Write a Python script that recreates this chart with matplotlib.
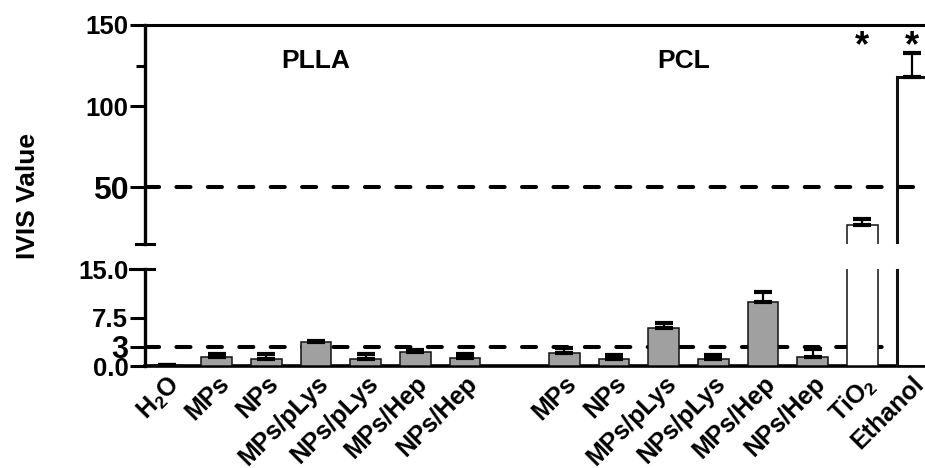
import numpy as np
import matplotlib.pyplot as plt

# Fonts: Arial-like bold everywhere
plt.rcParams['font.family'] = ['Liberation Sans', 'DejaVu Sans']
plt.rcParams['font.weight'] = 'bold'
plt.rcParams['mathtext.fontset'] = 'custom'
plt.rcParams['mathtext.rm'] = 'Liberation Sans:bold'
plt.rcParams['mathtext.bf'] = 'Liberation Sans:bold'
plt.rcParams['mathtext.default'] = 'rm'

# Data
labels = ["H$_2$O", "MPs", "NPs", "MPs/pLys", "NPs/pLys", "MPs/Hep", "NPs/Hep",
          "MPs", "NPs", "MPs/pLys", "NPs/pLys", "MPs/Hep", "NPs/Hep",
          "TiO$_2$", "Ethanol"]
positions = [0, 1, 2, 3, 4, 5, 6, 8, 9, 10, 11, 12, 13, 14, 15]
means = [0.15, 1.45, 1.1, 3.65, 1.1, 2.2, 1.3,
         1.95, 1.05, 5.9, 1.05, 9.9, 1.4,
         27.0, 118.0]
errors = [0.0, 0.4, 0.8, 0.2, 0.75, 0.27, 0.5,
          0.8, 0.6, 0.7, 0.6, 1.5, 1.2,
          3.5, 15.0]
fills = ["#a0a0a0"] * 13 + ["white", "white"]
edge_widths = [1.1] * 13 + [1.1, 2.2]

upper_ticks = [50, 100, 150]
upper_ticklabels = ["50", "100", "150"]
lower_ticks = [0, 3, 7.5, 15]
lower_ticklabels = ["0.0", "3", "7.5", "15.0"]
thresholds = {"upper": 50, "lower": 3}

fig = plt.figure(figsize=(9.25, 4.68), dpi=100)
ax_top = fig.add_axes([0.1568, 0.4786, 0.8432, 0.468])
ax_bot = fig.add_axes([0.1568, 0.2179, 0.8432, 0.2073])

for ax in (ax_top, ax_bot):
    ax.bar(positions, means, width=0.62, color=fills, edgecolor="#111111",
           linewidth=edge_widths, zorder=3)
    ax.errorbar(positions, means, yerr=[np.zeros(len(means)), errors],
                fmt="none", ecolor="black", elinewidth=1.6, capsize=6.5,
                capthick=3, zorder=4)
    ax.set_xlim(-0.443, 15.26)
    ax.spines["right"].set_visible(False)
    ax.spines["left"].set_linewidth(2.4)
    ax.tick_params(axis="y", width=2.2, length=10.5, labelsize=18.5, pad=1.5)

# Upper panel (broken axis, 15 - 150)
ax_top.set_ylim(15, 150)
ax_top.spines["bottom"].set_visible(False)
ax_top.spines["top"].set_linewidth(2.2)
ax_top.set_xticks([])
ax_top.set_yticks(upper_ticks)
ax_top.set_yticklabels(upper_ticklabels)
ax_top.set_yticks([125], minor=True)
ax_top.tick_params(axis="y", which="minor", width=2.2, length=6.5)
ax_top.get_yticklabels()[0].set_fontsize(23)
ax_top.axhline(thresholds["upper"], color="black", lw=2.9, ls=(0, (3.5, 4.3)),
               dash_capstyle="round", zorder=5)
ax_top.plot([-0.012, 0.011], [0, 0], transform=ax_top.transAxes, color="black",
            lw=2.2, clip_on=False)

# Lower panel (0 - 15)
ax_bot.set_ylim(0, 15)
ax_bot.spines["top"].set_visible(False)
ax_bot.spines["bottom"].set_linewidth(2.6)
ax_bot.set_yticks(lower_ticks)
ax_bot.set_yticklabels(lower_ticklabels)
ax_bot.get_yticklabels()[1].set_fontsize(22)
ax_bot.plot([-0.019, 0.011], [1, 1], transform=ax_bot.transAxes, color="black",
            lw=2.2, clip_on=False)
ax_bot.axhline(thresholds["lower"], color="black", lw=2.9, ls=(0, (3.5, 4.3)),
               dash_capstyle="round", zorder=2)
ax_bot.set_xticks(positions)
ax_bot.set_xticklabels(labels, rotation=45, ha="right", va="top",
                       rotation_mode="anchor", fontsize=18)
ax_bot.tick_params(axis="x", length=0, pad=4)

# Group names and significance stars
ax_top.text(3, 128, "PLLA", ha="center", va="center", fontsize=19)
ax_top.text(10.4, 128, "PCL", ha="center", va="center", fontsize=19)
for pos in (14, 15):
    ax_top.text(pos, 136.5, "*", ha="center", va="center", fontsize=26)

fig.text(0.03, 0.581, "IVIS Value", rotation=90, ha="center", va="center",
         fontsize=19)

fig.savefig("out.png", dpi=100)
